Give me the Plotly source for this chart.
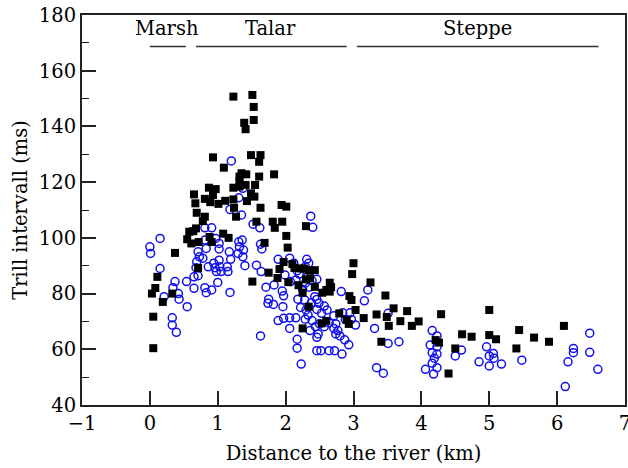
import plotly.graph_objects as go

# Black filled squares
sq_x = [0.03, 0.05, 0.05, 0.08, 0.11, 0.19, 0.33, 0.37,
        0.55, 0.58, 0.61, 0.64, 0.68, 0.72, 0.71, 0.88, 0.91, 1.08, 1.16,
        1.69, 1.51, 1.75, 1.88, 2.01, 2.03, 1.97, 1.91, 2.10, 2.13, 2.04, 2.19,
        1.23, 1.51, 1.53, 1.53, 1.39, 1.41, 0.93, 1.49, 1.63, 1.61, 1.09, 1.35,
        1.42, 1.83, 1.61, 1.32, 1.32, 1.41, 1.55, 1.32, 1.23, 0.87, 0.97, 0.65,
        0.93, 1.49, 1.54, 0.81, 0.89, 1.01, 1.11, 1.23, 1.43, 0.67, 1.24, 1.63,
        1.94, 2.01, 0.69, 0.81, 0.78, 1.27, 1.57, 1.81, 1.95, 1.84, 2.30,
        2.22, 2.27, 2.34, 2.43, 2.30, 2.36, 2.43, 2.65, 2.60, 2.67, 2.54, 2.65,
        2.25, 3.00, 2.98, 2.34, 2.94, 2.97, 2.79, 3.03, 2.53, 2.60, 2.90, 2.93, 2.25,
        3.25, 3.47, 3.15, 3.34, 3.49, 3.52, 3.59, 3.69, 3.79, 3.86, 3.96, 3.41,
        4.29, 4.21, 4.26, 4.40, 4.50, 4.60, 4.74, 5.00, 5.00, 5.10, 5.44, 5.40,
        5.66, 5.88, 6.10]
sq_y = [80.0, 71.7, 60.4, 82.0, 86.0, 77.0, 80.0, 94.6,
        99.5, 102.2, 98.0, 102.4, 103.4, 98.5, 89.2, 100.3, 98.5, 101.5, 100.0,
        98.2, 84.3, 87.5, 85.6, 100.7, 96.5, 91.3, 88.8, 90.6, 89.2, 84.1, 83.0,
        150.7, 151.3, 147.0, 142.3, 141.3, 139.0, 128.9, 129.7, 129.7, 127.3, 125.2, 123.2,
        122.8, 122.8, 122.0, 122.0, 120.2, 119.0, 119.0, 118.4, 118.0, 118.0, 117.5, 115.6,
        115.4, 116.0, 114.8, 114.0, 112.8, 112.2, 113.3, 113.8, 113.2, 112.4, 110.8, 110.8,
        111.8, 111.2, 109.0, 107.6, 106.0, 107.6, 105.8, 105.8, 105.8, 103.6, 104.2,
        89.0, 89.0, 88.4, 88.4, 85.1, 85.5, 82.4, 83.9, 81.3, 82.3, 80.3, 80.7,
        80.3, 90.9, 87.0, 75.3, 79.1, 77.7, 72.9, 74.1, 69.3, 70.2, 70.5, 69.1, 67.5,
        84.0, 79.3, 71.2, 72.5, 71.6, 68.4, 74.7, 70.1, 73.7, 68.4, 70.0, 62.7,
        72.6, 63.3, 62.4, 51.3, 60.3, 65.4, 64.5, 74.1, 65.1, 63.6, 66.9, 60.3,
        64.2, 62.7, 68.4]

# Blue open circles
ci_x = [0.15, 0.00, 0.01, 0.15, 0.37, 0.34, 0.21, 0.42, 0.43, 0.55, 0.33, 0.33, 0.39, 0.54,
        0.65, 0.65, 0.71, 0.68, 0.69, 0.73, 0.78, 0.71, 0.81, 0.83, 0.91, 0.83, 0.81, 0.81,
        0.91, 0.86, 0.94, 0.96, 0.98, 1.02, 1.03, 1.05, 1.14, 1.15, 1.00, 1.17, 1.19, 1.02,
        1.02, 0.97, 1.18, 1.31, 1.36, 1.32, 1.38, 1.30, 1.37, 1.40, 1.63, 1.65, 1.57, 1.64,
        1.52, 1.62, 1.63, 1.71, 1.83, 1.89, 1.95, 1.97, 1.75, 1.74, 1.82, 1.96, 1.89, 1.97,
        2.06, 2.15, 2.06, 2.17, 2.17, 2.06, 2.12, 1.99, 2.07,
        1.20, 1.31, 1.37, 1.18, 1.35, 2.37, 2.40,
        2.31, 2.34, 2.29, 2.17, 2.20, 2.15, 2.33, 2.39, 2.46, 2.29, 2.35, 2.25, 2.18, 2.28,
        2.22, 2.30, 2.38, 2.43, 2.46, 2.49, 2.57, 2.61, 2.53, 2.46, 2.33, 2.29, 2.39, 2.44,
        2.50, 2.57, 2.36, 2.48, 2.64, 2.71, 2.74, 2.71, 2.77, 2.74, 2.84, 2.88, 2.95, 2.97,
        3.03, 2.80, 2.87, 2.93, 2.83, 2.46, 2.46, 2.52, 2.64, 2.72, 2.23, 2.82,
        3.21, 3.16, 3.51, 3.31, 3.51, 3.67, 3.34, 3.44, 4.16, 4.23, 4.13, 4.23, 4.16, 4.23,
        4.19, 4.16, 4.23, 4.06, 4.18, 4.50, 4.59, 4.85, 4.96, 5.00, 5.06, 5.07, 5.00, 5.18,
        5.48, 6.12, 6.16, 6.24, 6.24, 6.48, 6.48, 6.60]
ci_y = [99.8, 96.8, 94.4, 89.0, 84.3, 82.1, 78.9, 80.0, 78.0, 75.3, 71.3, 68.7, 66.1, 84.3,
        86.0, 81.9, 86.4, 89.3, 91.4, 93.2, 92.7, 95.0, 82.1, 80.3, 81.3, 96.2, 99.2, 103.6,
        103.6, 89.6, 90.9, 89.3, 87.9, 92.0, 89.6, 87.9, 89.6, 87.9, 84.0, 95.0, 92.3, 98.0,
        96.0, 99.8, 80.4, 98.6, 99.2, 96.8, 95.6, 94.4, 93.2, 90.0, 97.7, 96.0, 90.2, 87.9,
        104.9, 103.6, 64.8, 82.3, 83.1, 92.3, 80.9, 79.2, 78.0, 76.5, 76.1, 75.3, 70.3, 71.1,
        71.3, 71.3, 67.5, 63.6, 60.4, 92.7, 90.9, 86.7, 84.3,
        127.6, 114.4, 117.8, 110.2, 108.2, 107.8, 103.8,
        92.3, 90.9, 89.7, 88.2, 87.0, 84.9, 86.3, 84.6, 85.1, 83.7, 82.3, 81.5, 78.0, 77.7,
        75.0, 74.1, 76.7, 78.9, 77.9, 76.5, 75.5, 74.1, 72.9, 74.3, 72.3, 70.8, 70.3, 68.1,
        69.1, 68.1, 66.7, 65.5, 69.5, 72.0, 69.1, 67.5, 66.7, 65.5, 73.1, 70.7, 73.1, 70.7,
        68.7, 64.8, 63.4, 61.6, 58.3, 64.3, 59.5, 59.5, 59.5, 59.5, 54.7, 80.7,
        81.3, 77.4, 72.9, 67.5, 62.1, 62.7, 53.4, 51.4, 66.7, 64.8, 61.5, 60.9, 58.8, 58.3,
        56.8, 55.0, 53.4, 52.8, 51.1, 57.6, 59.7, 55.5, 60.9, 57.6, 58.5, 56.8, 54.0, 54.7,
        56.1, 46.6, 55.5, 60.3, 58.8, 65.8, 58.9, 52.8]

# Habitat zones along the top
zone_names = ["Marsh", "Talar", "Steppe"]
zone_start = [0.0, 0.68, 3.05]
zone_end = [0.53, 2.90, 6.61]
zone_label_x = [0.25, 1.78, 4.82]
zone_label_y = 175
zone_line_y = 168.7

x_ticks = [-1, 0, 1, 2, 3, 4, 5, 6, 7]
x_tick_text = ["\u22121", "0", "1", "2", "3", "4", "5", "6", "7"]
y_ticks = [40, 60, 80, 100, 120, 140, 160, 180]

FONT = "DejaVu Serif"
FS = 19.5

fig = go.Figure()
fig.add_trace(go.Scatter(
    x=ci_x, y=ci_y, mode="markers",
    marker=dict(symbol="circle-open", size=8, color="#1010ee",
                line=dict(width=1.5, color="#1010ee")),
    showlegend=False, hoverinfo="skip"))
fig.add_trace(go.Scatter(
    x=sq_x, y=sq_y, mode="markers",
    marker=dict(symbol="square", size=8, color="black", line=dict(width=0)),
    showlegend=False, hoverinfo="skip"))

for name, s, e, lx in zip(zone_names, zone_start, zone_end, zone_label_x):
    fig.add_shape(type="line", x0=s, x1=e, y0=zone_line_y, y1=zone_line_y,
                  xref="x", yref="y", line=dict(color="#333333", width=1.5))
    fig.add_annotation(x=lx, y=zone_label_y, text=name, showarrow=False,
                       xref="x", yref="y", font=dict(family=FONT, size=FS, color="black"))

fig.update_layout(
    width=628, height=468,
    margin=dict(l=82, r=3, t=15, b=63),
    paper_bgcolor="white", plot_bgcolor="white",
    font=dict(family=FONT, size=FS, color="black"),
    xaxis=dict(range=[-1, 7], tickvals=x_ticks, ticktext=x_tick_text,
               ticks="inside", ticklen=14, tickwidth=1.5, tickcolor="#222",
               ticklabeloverflow="allow", automargin=False,
               showline=True, linecolor="#222", linewidth=2, mirror=True,
               showgrid=False, zeroline=False,
               title=dict(text="Distance to the river (km)", standoff=12,
                          font=dict(family=FONT, size=FS))),
    yaxis=dict(range=[40, 180], tickvals=y_ticks, automargin=False,
               ticks="inside", ticklen=14, tickwidth=1.5, tickcolor="#222",
               minor=dict(ticks="inside", ticklen=7, dtick=10, tick0=40,
                          tickwidth=1.2, tickcolor="#222"),
               showline=True, linecolor="#222", linewidth=2, mirror=True,
               showgrid=False, zeroline=False,
               title=dict(text="Trill intervall (ms)", standoff=6,
                          font=dict(family=FONT, size=FS))),
)

fig.write_html("out.html")
